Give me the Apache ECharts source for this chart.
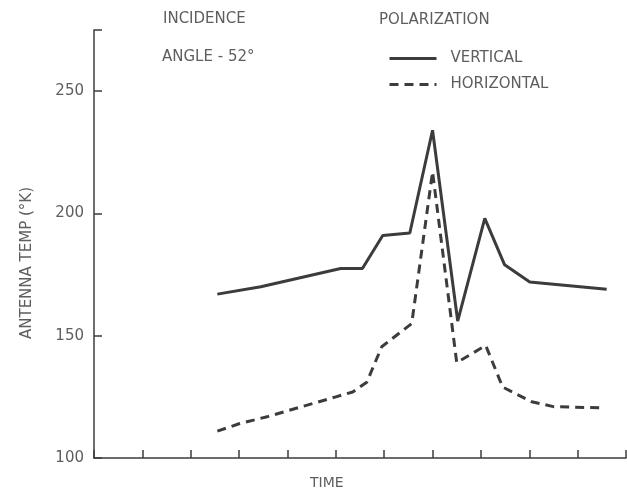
<!DOCTYPE html>
<html>
<head>
    <meta charset="utf-8">
    <script src="https://cdn.jsdelivr.net/npm/echarts@6/dist/echarts.min.js"></script>
</head>
<body style="margin:0;background:#fff;">
<div id="main" style="width: 627px;height:497px;"></div>
<script type="text/javascript">
    // data (time in tick units, temperature in K)
    var vertTime = [2.55, 3.45, 5.1, 5.55, 5.97, 6.53, 7.0, 7.52, 8.08, 8.49, 9.01, 10.6];
    var vertTemp = [167, 170, 177.5, 177.5, 191, 192, 234, 156, 198, 179, 172, 169];
    var horizTime = [2.55, 3.0, 3.6, 4.3, 5.0, 5.35, 5.64, 5.95, 6.57, 7.0, 7.5, 8.1, 8.45, 9.05, 9.5, 10.5];
    var horizTemp = [111, 114, 117, 121, 125, 127, 131, 145.5, 155, 217, 139, 146, 129, 123, 121, 120.5];
    var yTicks = [100, 150, 200, 250];

    function pairs(xs, ys) {
        return xs.map(function (x, i) { return [x, ys[i]]; });
    }

    var myChart = echarts.init(document.getElementById('main'));
    var ink = '#3c3c3c';
    var textGray = '#5e5e5e';
    var font = 'DejaVu Sans';

    function label(x, y, text, size, extra) {
        var o = {
            type: 'text', x: x, y: y,
            style: { text: text, fill: textGray, font: size + 'px "DejaVu Sans"', verticalAlign: 'middle' }
        };
        if (extra) {
            for (var k in extra) o[k] = extra[k];
        }
        return o;
    }

    var option = {
        animation: false,
        backgroundColor: '#fff',
        grid: { left: 94, right: 1, top: 30, bottom: 39 },
        legend: {
            orient: 'vertical',
            left: 383,
            top: 46,
            itemWidth: 47,
            itemHeight: 18,
            itemGap: 11,
            itemStyle: { opacity: 0 },
            lineStyle: { width: 3 },
            textStyle: { color: textGray, fontFamily: font, fontSize: 15, padding: [0, 0, 0, 9] },
            data: ['VERTICAL', 'HORIZONTAL']
        },
        xAxis: {
            type: 'value',
            min: 0, max: 11, interval: 1,
            axisLine: { lineStyle: { color: ink, width: 1.5 } },
            axisTick: { inside: true, length: 8, lineStyle: { color: ink, width: 1.5 } },
            axisLabel: { show: false },
            splitLine: { show: false }
        },
        yAxis: {
            type: 'value',
            min: 100, max: 275, interval: 50,
            axisLine: { show: true, lineStyle: { color: ink, width: 1.5 } },
            axisTick: { inside: true, length: 8, lineStyle: { color: ink, width: 1.5 } },
            axisLabel: {
                color: textGray, fontFamily: font, fontSize: 15, margin: 10,
                formatter: function (v) { return yTicks.indexOf(v) >= 0 ? String(v) : ''; }
            },
            splitLine: { show: false }
        },
        graphic: [
            label(163, 19, 'INCIDENCE', 15),
            label(162, 57, 'ANGLE - 52°', 15),
            label(379, 20, 'POLARIZATION', 15),
            label(310, 483, 'TIME', 14),
            label(27, 263, 'ANTENNA TEMP (°K)', 15, { rotation: Math.PI / 2 })
        ],
        series: [
            {
                name: 'VERTICAL',
                type: 'line',
                symbol: 'none',
                data: pairs(vertTime, vertTemp),
                lineStyle: { color: ink, width: 3, type: 'solid' },
                itemStyle: { color: ink }
            },
            {
                name: 'HORIZONTAL',
                type: 'line',
                symbol: 'none',
                data: pairs(horizTime, horizTemp),
                lineStyle: { color: ink, width: 3, type: [9, 6] },
                itemStyle: { color: ink }
            }
        ]
    };
    // center the rotated axis name on its point
    option.graphic[4].style.align = 'center';

    myChart.setOption(option);
</script>
</body>
</html>
